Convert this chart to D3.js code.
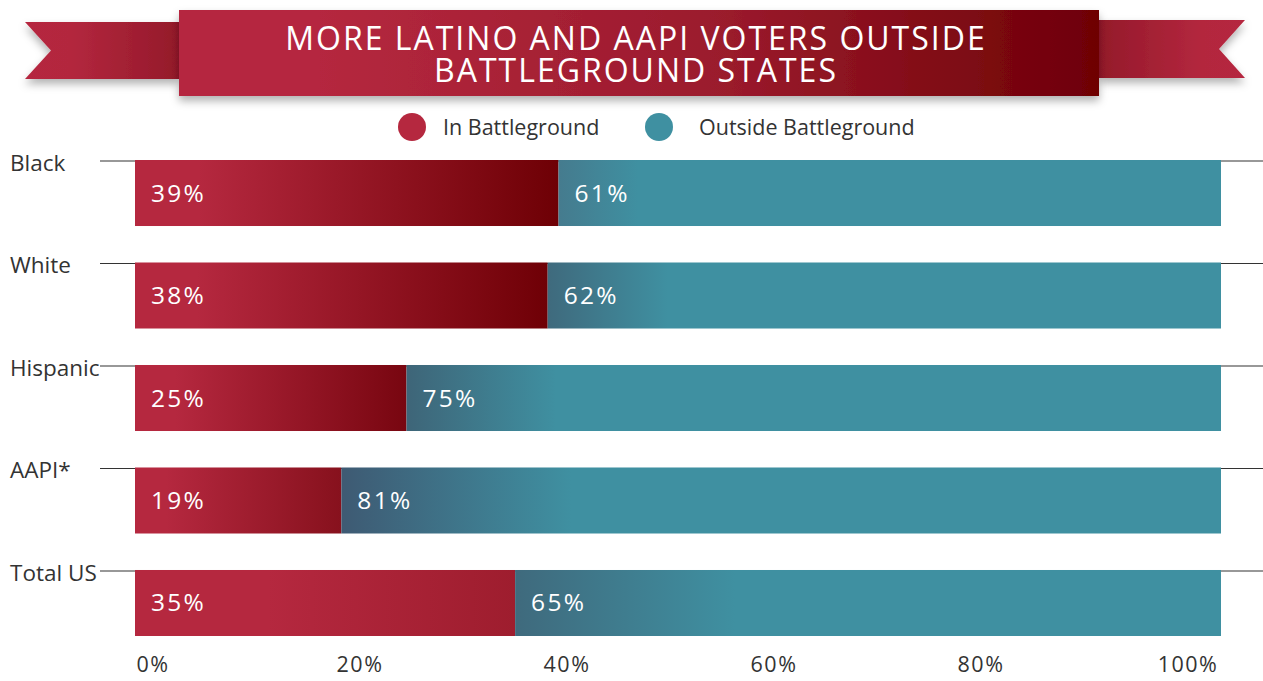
<!DOCTYPE html>
<html>
<head>
<meta charset="utf-8">
<script src="https://cdn.jsdelivr.net/npm/d3@7"></script>
<style>
  html, body { margin: 0; padding: 0; background: #fff; }
  svg { display: block; }
  text { font-family: "Open Sans", "DejaVu Sans", sans-serif; }
</style>
</head>
<body>
<svg id="chart" width="1263" height="681"></svg>
<script>
// ---- data ----
const categories = ["Black", "White", "Hispanic", "AAPI*", "Total US"];
const inBattleground = [39, 38, 25, 19, 35];
const outsideBattleground = [61, 62, 75, 81, 65];
const seriesNames = ["In Battleground", "Outside Battleground"];
const tickValues = [0, 20, 40, 60, 80, 100];
const titleLines = ["MORE LATINO AND AAPI VOTERS OUTSIDE", "BATTLEGROUND STATES"];

// ---- styles ----
const redBase = "#b5283f";
const tealBase = "#3f90a1";
const redEndColors = ["#6e0005", "#6f0006", "#780610", "#87111d", "#9e1d2e"];
const redSolidStop = [0.15, 0.15, 0.15, 0.15, 0.35];
const tealStartColors = ["#457b8e", "#3f6a7d", "#3e6578", "#3e5a73", "#3f6a7d"];
const tealFadeLen = [80, 120, 150, 230, 220];

const W = 1263, H = 681;
const svg = d3.select("#chart");
const defs = svg.append("defs");

// drop shadow
const f = defs.append("filter").attr("id", "shadow")
  .attr("x", "-10%").attr("y", "-30%").attr("width", "120%").attr("height", "180%");
f.append("feDropShadow").attr("dx", 0).attr("dy", 5).attr("stdDeviation", 4)
  .attr("flood-color", "#000").attr("flood-opacity", 0.3);

function linGrad(id, stops, attrs) {
  const g = defs.append("linearGradient").attr("id", id);
  Object.entries(attrs || {x1: "0%", x2: "100%", y1: "0%", y2: "0%"}).forEach(([k, v]) => g.attr(k, v));
  stops.forEach(s => g.append("stop").attr("offset", s[0]).attr("stop-color", s[1]));
  return g;
}

// ---- banner ----
linGrad("tailL", [[0, "#b5283f"], [0.3, "#b3273e"], [1, "#94192a"]]);
linGrad("tailR", [[0, "#94192a"], [0.7, "#b3273e"], [1, "#b5283f"]]);
linGrad("mainBanner", [[0, "#b5283f"], [0.15, "#b5283f"], [0.6, "#9a1a2c"], [1, "#6e0005"]]);

const banner = svg.append("g");
banner.append("path")
  .attr("d", "M25,22 L179,22 L179,79 L25,79 L51,50.5 Z")
  .attr("fill", "url(#tailL)").attr("filter", "url(#shadow)");
banner.append("path")
  .attr("d", "M1099,20 L1245,20 L1219,49 L1245,78 L1099,78 Z")
  .attr("fill", "url(#tailR)").attr("filter", "url(#shadow)");
banner.append("rect")
  .attr("x", 179).attr("y", 10).attr("width", 920).attr("height", 86)
  .attr("fill", "url(#mainBanner)").attr("filter", "url(#shadow)");

const title = banner.append("text")
  .attr("text-anchor", "middle")
  .attr("fill", "#fff")
  .attr("font-size", 32)
  .attr("letter-spacing", 2.0);
title.selectAll("tspan").data(titleLines).join("tspan")
  .attr("x", 636).attr("y", (d, i) => 50 + i * 32)
  .text(d => d);

// ---- legend ----
const legendColors = [redBase, tealBase];
const legendX = [412, 659];
const legendTextX = [443, 699];
const lg = svg.append("g");
lg.selectAll("circle").data(seriesNames).join("circle")
  .attr("cx", (d, i) => legendX[i]).attr("cy", 127).attr("r", 14)
  .attr("fill", (d, i) => legendColors[i]);
lg.selectAll("text").data(seriesNames).join("text")
  .attr("x", (d, i) => legendTextX[i]).attr("y", 135)
  .attr("font-size", 21.5).attr("fill", "#333")
  .text(d => d);

// ---- scales ----
const x = d3.scaleLinear().domain([0, 100]).range([135, 1221]);
const y = d3.scaleBand().domain(categories).range([160, 636]).paddingInner(0.356).paddingOuter(0);
const xTicks = d3.scaleLinear().domain([0, 100]).range([152.5, 1187.5]);

// per-bar gradients
categories.forEach((c, i) => {
  linGrad("red" + i, [[0, redBase], [redSolidStop[i], redBase], [1, redEndColors[i]]]);
  const bx = x(inBattleground[i]);
  linGrad("teal" + i, [[0, tealStartColors[i]], [1, tealBase]],
    {gradientUnits: "userSpaceOnUse", x1: bx, x2: bx + tealFadeLen[i], y1: 0, y2: 0});
});

// category rules and labels
const rows = svg.append("g").selectAll("g").data(categories).join("g");
rows.append("line")
  .attr("x1", 100).attr("x2", W)
  .attr("y1", d => y(d) + 1).attr("y2", d => y(d) + 1)
  .attr("stroke", "#333").attr("stroke-width", 1.2);
rows.append("text")
  .attr("x", 10).attr("y", d => y(d) + 11)
  .attr("font-size", 22.5).attr("fill", "#333")
  .text(d => d);

// bars
rows.append("rect")
  .attr("x", x(0)).attr("y", d => y(d))
  .attr("width", (d, i) => x(inBattleground[i]) - x(0))
  .attr("height", y.bandwidth())
  .attr("fill", (d, i) => `url(#red${i})`);
rows.append("rect")
  .attr("x", (d, i) => x(inBattleground[i])).attr("y", d => y(d))
  .attr("width", (d, i) => x(inBattleground[i] + outsideBattleground[i]) - x(inBattleground[i]))
  .attr("height", y.bandwidth())
  .attr("fill", (d, i) => `url(#teal${i})`);

// value labels
rows.append("text")
  .attr("x", x(0) + 16).attr("y", d => y(d) + y.bandwidth() / 2 + 8.5)
  .attr("font-size", 24.5).attr("letter-spacing", 2.3).attr("fill", "#fff")
  .text((d, i) => inBattleground[i] + "%");
rows.append("text")
  .attr("x", (d, i) => x(inBattleground[i]) + 16).attr("y", d => y(d) + y.bandwidth() / 2 + 8.5)
  .attr("font-size", 24.5).attr("letter-spacing", 2.3).attr("fill", "#fff")
  .text((d, i) => outsideBattleground[i] + "%");

// x axis
const axis = d3.axisBottom(xTicks).tickValues(tickValues).tickSize(0).tickFormat(d => d + "%");
const ax = svg.append("g").attr("transform", "translate(0,654)").call(axis);
ax.select(".domain").remove();
ax.selectAll("text")
  .attr("font-size", 21.5).attr("fill", "#333").attr("letter-spacing", 1.5)
  .attr("font-family", "'Open Sans', sans-serif");
</script>
</body>
</html>
